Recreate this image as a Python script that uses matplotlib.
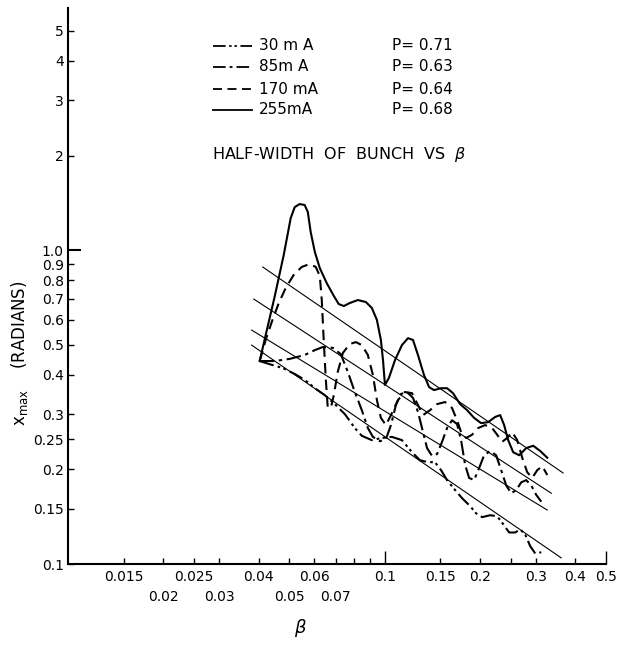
import matplotlib
matplotlib.use('Agg')
import matplotlib.pyplot as plt
from matplotlib.ticker import NullLocator

beta_30 = [0.0403, 0.0433, 0.0476, 0.0520, 0.0559, 0.0602, 0.0647, 0.0696, 0.0749, 0.0805,
           0.0847, 0.0911, 0.0980, 0.1054, 0.1134, 0.1220, 0.1293, 0.1371, 0.1442, 0.1507,
           0.1574, 0.1669, 0.1756, 0.1861, 0.1944, 0.2031, 0.2153, 0.2266, 0.2367, 0.2473,
           0.2584, 0.2680, 0.2779, 0.2882, 0.2989, 0.3123]
xmax_30 = [0.443, 0.433, 0.421, 0.403, 0.386, 0.363, 0.345, 0.323, 0.300, 0.271,
           0.256, 0.248, 0.252, 0.254, 0.248, 0.227, 0.214, 0.211, 0.211, 0.199,
           0.185, 0.172, 0.162, 0.153, 0.145, 0.141, 0.143, 0.142, 0.134, 0.126,
           0.126, 0.129, 0.124, 0.114, 0.108, 0.109]

beta_85 = [0.0403, 0.0449, 0.0501, 0.0559, 0.0602, 0.0638, 0.0686, 0.0727, 0.0765, 0.0805,
           0.0847, 0.0885, 0.0918, 0.0966, 0.1009, 0.1047, 0.1085, 0.1126, 0.1176, 0.1229,
           0.1274, 0.1322, 0.1361, 0.1411, 0.1464, 0.1518, 0.1574, 0.1632, 0.1693, 0.1743,
           0.1795, 0.1848, 0.1916, 0.1987, 0.2061, 0.2153, 0.2249, 0.2333, 0.2420, 0.2510,
           0.2603, 0.2699, 0.2799, 0.2903, 0.3011, 0.3123]
xmax_85 = [0.443, 0.443, 0.450, 0.463, 0.480, 0.491, 0.488, 0.466, 0.409, 0.353,
           0.309, 0.271, 0.254, 0.246, 0.250, 0.277, 0.321, 0.348, 0.353, 0.338,
           0.305, 0.263, 0.234, 0.221, 0.224, 0.245, 0.271, 0.287, 0.279, 0.248,
           0.207, 0.188, 0.185, 0.202, 0.222, 0.229, 0.222, 0.199, 0.178, 0.168,
           0.172, 0.182, 0.185, 0.178, 0.166, 0.158]

beta_170 = [0.0403, 0.0421, 0.0440, 0.0463, 0.0487, 0.0516, 0.0547, 0.0580, 0.0606, 0.0624,
            0.0633, 0.0642, 0.0652, 0.0661, 0.0676, 0.0691, 0.0711, 0.0738, 0.0776, 0.0811,
            0.0847, 0.0885, 0.0918, 0.0945, 0.0973, 0.1009, 0.1047, 0.1102, 0.1159, 0.1220,
            0.1274, 0.1322, 0.1391, 0.1464, 0.1551, 0.1632, 0.1693, 0.1743, 0.1808, 0.1888,
            0.1973, 0.2076, 0.2185, 0.2266, 0.2350, 0.2437, 0.2528, 0.2622, 0.2719, 0.2820,
            0.2924, 0.3033, 0.3146, 0.3262]
xmax_170 = [0.443, 0.517, 0.590, 0.678, 0.757, 0.833, 0.883, 0.903, 0.883, 0.827,
            0.693, 0.517, 0.386, 0.316, 0.314, 0.345, 0.409, 0.470, 0.502, 0.509,
            0.498, 0.463, 0.400, 0.333, 0.292, 0.277, 0.298, 0.333, 0.353, 0.350,
            0.321, 0.298, 0.309, 0.323, 0.328, 0.314, 0.287, 0.263, 0.252, 0.258,
            0.271, 0.277, 0.271, 0.258, 0.245, 0.252, 0.263, 0.248, 0.218, 0.196,
            0.188, 0.199, 0.205, 0.192]

beta_255 = [0.0403, 0.0421, 0.0449, 0.0480, 0.0505, 0.0520, 0.0539, 0.0559, 0.0572, 0.0584,
            0.0602, 0.0624, 0.0656, 0.0691, 0.0716, 0.0743, 0.0776, 0.0823, 0.0872, 0.0911,
            0.0945, 0.0973, 0.0988, 0.1002, 0.1031, 0.1078, 0.1134, 0.1185, 0.1229, 0.1274,
            0.1331, 0.1381, 0.1432, 0.1507, 0.1574, 0.1644, 0.1731, 0.1821, 0.1916, 0.2016,
            0.2122, 0.2233, 0.2316, 0.2384, 0.2455, 0.2546, 0.2660, 0.2799, 0.2946, 0.3100,
            0.3262]
xmax_255 = [0.443, 0.536, 0.708, 0.964, 1.264, 1.370, 1.401, 1.391, 1.321, 1.141,
            0.985, 0.876, 0.785, 0.714, 0.673, 0.663, 0.678, 0.693, 0.683, 0.654,
            0.599, 0.517, 0.446, 0.372, 0.391, 0.446, 0.498, 0.524, 0.517, 0.463,
            0.400, 0.366, 0.358, 0.363, 0.363, 0.350, 0.323, 0.309, 0.292, 0.281,
            0.283, 0.294, 0.298, 0.277, 0.248, 0.227, 0.222, 0.234, 0.238, 0.229,
            0.218]

# straight-line fits x_max ~ beta^-P (end points)
fit_30_beta, fit_30_x = [0.0380, 0.361], [0.498, 0.1046]
fit_85_beta, fit_85_x = [0.0380, 0.326], [0.556, 0.1486]
fit_170_beta, fit_170_x = [0.0386, 0.336], [0.698, 0.168]
fit_255_beta, fit_255_x = [0.0412, 0.366], [0.883, 0.195]

currents = ['30 m A', '85m A', '170 mA', '255mA']
p_values = [0.71, 0.63, 0.64, 0.68]

x_row1 = [0.015, 0.02, 0.025, 0.03, 0.04, 0.05, 0.06, 0.07, 0.08, 0.09, 0.15, 0.2, 0.25, 0.3, 0.4]
x_row1_labels = ['0.015', '', '0.025', '', '0.04', '', '0.06', '', '', '',
                 '0.15', '0.2', '', '0.3', '0.4']
x_row2 = [0.02, 0.03, 0.05, 0.07]
x_row2_labels = ['0.02', '0.03', '0.05', '0.07']
x_major = [0.1, 0.5]
y_minor = [0.1, 0.15, 0.2, 0.25, 0.3, 0.4, 0.5, 0.6, 0.7, 0.8, 0.9, 2, 3, 4, 5]
y_minor_labels = ['0.1', '0.15', '0.2', '0.25', '0.3', '0.4', '0.5', '0.6', '0.7', '0.8', '0.9',
                  '2', '3', '4', '5']
y_major = [1.0]

plt.rcParams['font.family'] = ['DejaVu Sans']

fig = plt.figure(figsize=(6.22, 6.56), dpi=100)
ax = fig.add_axes([68 / 622, 92 / 656, 538 / 622, 556 / 656])
ax.set_xscale('log')
ax.set_yscale('log')

styles = [(0, (7, 2, 1.3, 1.6, 1.3, 2)), (0, (7, 2.2, 1.6, 2.2)), (0, (5, 3)), '-']
curves = [(beta_30, xmax_30), (beta_85, xmax_85), (beta_170, xmax_170), (beta_255, xmax_255)]
fits = [(fit_30_beta, fit_30_x), (fit_85_beta, fit_85_x), (fit_170_beta, fit_170_x),
        (fit_255_beta, fit_255_x)]

for (b, xm), ls in zip(curves, styles):
    ax.plot(b, xm, color='black', lw=1.5, linestyle=ls)
for b, xm in fits:
    ax.plot(b, xm, color='black', lw=0.8)

ax.set_xlim(0.01, 0.5)
ax.set_ylim(0.1, 5.9)

for s in ['top', 'right']:
    ax.spines[s].set_visible(False)
for s in ['left', 'bottom']:
    ax.spines[s].set_linewidth(1.5)

ax.set_xticks(x_major, ['0.1', '0.5'])
ax.set_xticks(x_row1, x_row1_labels, minor=True)
ax.set_yticks(y_major, ['1.0'])
ax.set_yticks(y_minor, y_minor_labels, minor=True)
ax.tick_params(axis='x', which='minor', direction='in', length=4.3, width=1, labelsize=10, pad=4)
ax.tick_params(axis='x', which='major', direction='in', length=9.5, width=1, labelsize=10, pad=4)
ax.tick_params(axis='y', which='minor', direction='in', length=4.3, width=1, labelsize=10, pad=3)
ax.tick_params(axis='y', which='major', direction='in', length=9.5, width=1.5, labelsize=10, pad=3)

# second row of beta labels
sec = ax.secondary_xaxis('bottom')
sec.set_xticks(x_row2, x_row2_labels)
sec.xaxis.set_minor_locator(NullLocator())
sec.tick_params(length=0, pad=19, labelsize=10)
sec.spines['bottom'].set_visible(False)

# legend drawn by hand to keep the P column aligned
rows = [0.932, 0.894, 0.854, 0.817]
for ls, lab, p, yr in zip(styles, currents, p_values, rows):
    ax.plot([0.2695, 0.342], [yr, yr], transform=ax.transAxes, color='black', lw=1.3, linestyle=ls)
    ax.text(0.355, yr, lab, transform=ax.transAxes, va='center', ha='left', fontsize=11)
    ax.text(0.602, yr, 'P= %.2f' % p, transform=ax.transAxes, va='center', ha='left', fontsize=11)
ax.text(0.2675, 0.736, r'HALF-WIDTH  OF  BUNCH  VS  $\beta$', transform=ax.transAxes,
        va='center', ha='left', fontsize=11.5)

fig.text(20 / 622, 1 - 353 / 656, r'$\mathsf{x}_{\mathsf{max}}$    (RADIANS)', rotation=90,
         ha='center', va='center', fontsize=12)
fig.text(300 / 622, 1 - 628 / 656, r'$\beta$', ha='center', va='center', fontsize=13)

fig.savefig('out.png', dpi=100)
